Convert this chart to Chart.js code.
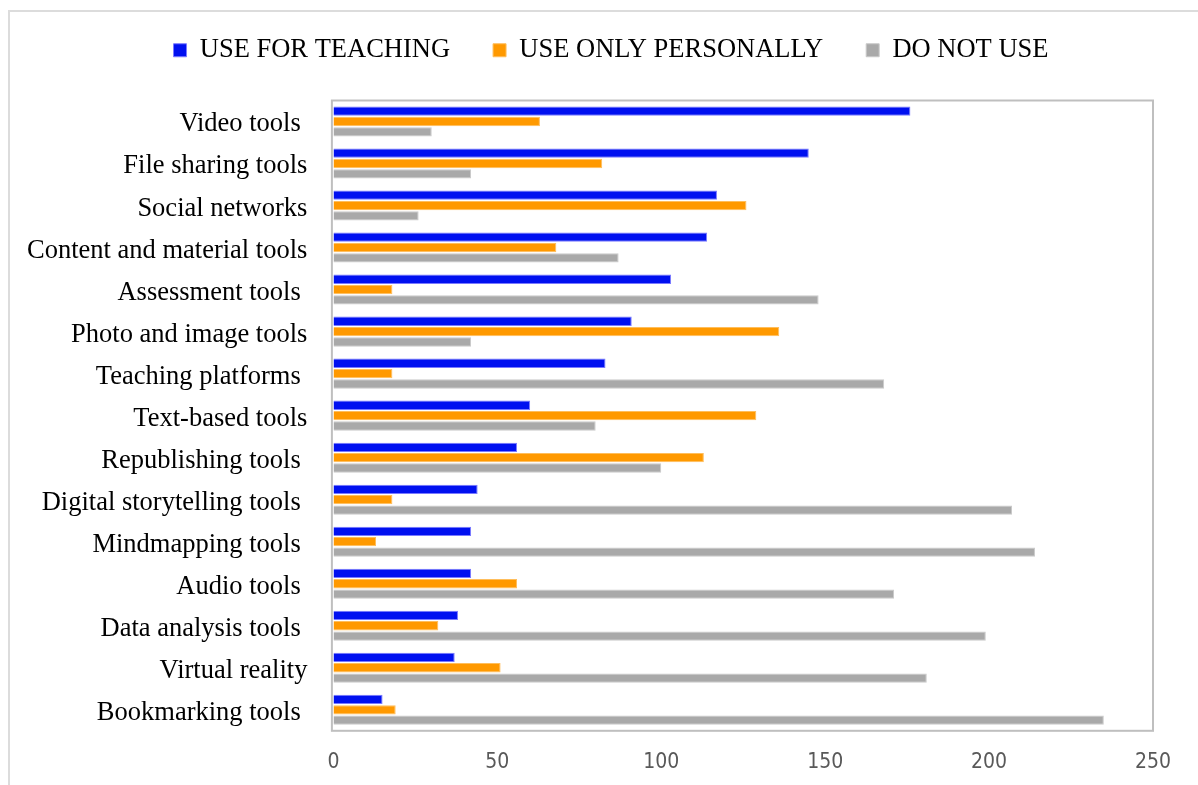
<!DOCTYPE html>
<html lang="en">
<head>
  <meta charset="UTF-8" />
  <title>Web 2.0 tool use</title>
  <script src="https://cdn.jsdelivr.net/npm/chart.js"></script>
  <style>
    html, body { margin: 0; padding: 0; background: #fff; }
    .wrap { position: relative; width: 1198px; height: 785px; overflow: hidden; }
    .frame { position: absolute; left: 8px; top: 10px; width: 1300px; height: 900px; border: 2px solid #dcdcdc; }
    #toolChart { position: absolute; left: 0; top: 0; }
  </style>
</head>
<body>
<div class="wrap">
  <div class="frame"></div>
  <canvas id="toolChart" width="1198" height="785"></canvas>
</div>

<script>
  // categories, top to bottom (trailing spaces kept as in the source labels)
  const tools = [
    "Video tools ", "File sharing tools", "Social networks", "Content and material tools",
    "Assessment tools ", "Photo and image tools", "Teaching platforms ", "Text-based tools",
    "Republishing tools ", "Digital storytelling tools ", "Mindmapping tools ", "Audio tools ",
    "Data analysis tools ", "Virtual reality", "Bookmarking tools "
  ];
  const useForTeaching = [176, 145, 117, 114, 103, 91, 83, 60, 56, 44, 42, 42, 38, 37, 15];
  const useOnlyPersonally = [63, 82, 126, 68, 18, 136, 18, 129, 113, 18, 13, 56, 32, 51, 19];
  const doNotUse = [30, 42, 26, 87, 148, 42, 168, 80, 100, 207, 214, 171, 199, 181, 235];
  const xTicks = [0, 50, 100, 150, 200, 250];

  const serif = "'Liberation Serif', 'Times New Roman', serif";

  // grey box round the plot area
  const plotBox = {
    id: "plotBox",
    beforeDatasetsDraw(chart) {
      const a = chart.chartArea;
      const ctx = chart.ctx;
      ctx.save();
      ctx.strokeStyle = "#bfbfbf";
      ctx.lineWidth = 2;
      ctx.strokeRect(a.left - 1.5, a.top, a.right - a.left + 1.5, a.bottom - a.top);
      ctx.restore();
    }
  };

  // more room under the legend, and nudge it right a bit
  const legendGap = {
    id: "legendGap",
    beforeInit(chart) {
      const fit = chart.legend.fit;
      chart.legend.fit = function () {
        fit.bind(chart.legend)();
        this.height += 27;
      };
    },
    afterLayout(chart) {
      chart.legend.left += 30;
      chart.legend.right += 30;
    }
  };

  const ctx = document.getElementById("toolChart").getContext("2d");
  const toolChart = new Chart(ctx, {
    type: "bar",
    data: {
      labels: tools,
      datasets: [
        {
          label: "USE FOR TEACHING",
          data: useForTeaching,
          backgroundColor: "#0010f0",
          borderColor: "#7a7aff",
          borderWidth: 1
        },
        {
          label: "USE ONLY PERSONALLY",
          data: useOnlyPersonally,
          backgroundColor: "#ff9900",
          borderColor: "#ffbe5c",
          borderWidth: 1
        },
        {
          label: "DO NOT USE",
          data: doNotUse,
          backgroundColor: "#a9a9a9",
          borderColor: "#cacaca",
          borderWidth: 1
        }
      ]
    },
    options: {
      indexAxis: "y",
      responsive: false,
      animation: false,
      categoryPercentage: 0.74,
      barPercentage: 0.9,
      layout: { padding: { top: -6, left: 9, right: 45, bottom: -1 } },
      plugins: {
        tooltip: { enabled: false },
        legend: {
          position: "top",
          labels: {
            boxWidth: 13,
            boxHeight: 13,
            padding: 43,
            color: "#000",
            font: { family: serif, size: 26.5 }
          }
        }
      },
      scales: {
        x: {
          min: 0,
          max: 250,
          afterBuildTicks(scale) {
            scale.ticks = xTicks.map(v => ({ value: v }));
          },
          grid: { display: false },
          border: { display: false },
          ticks: {
            padding: 11,
            color: "#595959",
            font: { family: "'Liberation Sans Narrow', 'DejaVu Sans Condensed', sans-serif", size: 21 }
          }
        },
        y: {
          grid: { display: false },
          border: { display: false },
          ticks: {
            padding: 18,
            labelOffset: 3,
            color: "#000",
            autoSkip: false,
            font: { family: serif, size: 26.5 }
          }
        }
      }
    },
    plugins: [plotBox, legendGap]
  });
</script>
</body>
</html>
